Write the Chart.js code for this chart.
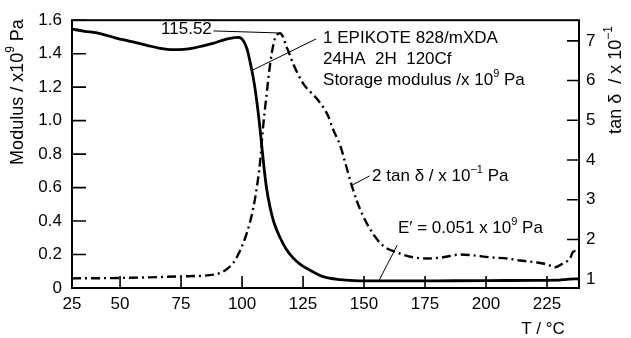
<!DOCTYPE html>
<html>
<head>
<meta charset="utf-8">
<script src="https://cdn.jsdelivr.net/npm/chart.js@4.4.1/dist/chart.umd.min.js"></script>
<style>
  html, body { margin: 0; padding: 0; background: #fff; }
</style>
</head>
<body>
<canvas id="dmaChart" width="631" height="338"></canvas>
<script>
// storage modulus E' (x10^9 Pa), left axis
const modulusTemp = [30.3, 35, 41.8, 48, 55.3, 61, 66.4, 71.7, 76, 79.9, 84, 88.1, 92, 95.1, 98.4,
  100.4, 102, 103.3, 104.9, 106, 107, 108, 109, 110, 111.5, 113.1, 115.6, 118, 120.9, 124, 127.9,
  133.2, 140.2, 148, 160, 180, 200, 220, 230, 233, 238.1];
const modulusValues = [1.547, 1.535, 1.52, 1.495, 1.47, 1.45, 1.432, 1.424, 1.426, 1.433, 1.447, 1.462, 1.48, 1.492, 1.497,
  1.48, 1.43, 1.35, 1.23, 1.12, 1.0, 0.86, 0.72, 0.60, 0.48, 0.39, 0.30, 0.235, 0.18, 0.14, 0.106,
  0.068, 0.05, 0.043, 0.042, 0.043, 0.044, 0.046, 0.047, 0.052, 0.055];

// 2 tan delta (x10^-1), right axis
const tanTemp = [30.3, 50, 75, 89, 93, 96.3, 99.2, 102, 104.5, 106.1, 107.4, 108.6, 109.8, 111.5, 113.1,
  114.3, 115.52, 116.8, 118, 118.9, 120.9, 125, 131.1, 135.2, 137.3, 140.2, 142.2, 145.1, 147.1, 149.6,
  153.7, 157.8, 163.5, 170.1, 175.8, 182.4, 189.3, 194.7, 201.6, 208.6, 213.9, 220.9, 225, 228.3,
  231.6, 234.4, 235.7, 238.1];
const tanValues = [1.02, 1.03, 1.07, 1.12, 1.22, 1.40, 1.72, 2.17, 2.76, 3.33, 3.95, 4.82, 5.51, 6.41, 6.98,
  7.15, 7.19, 7.10, 6.88, 6.75, 6.43, 5.93, 5.51, 5.12, 4.77, 4.37, 3.95, 3.33, 2.96, 2.59,
  2.14, 1.84, 1.67, 1.55, 1.52, 1.55, 1.62, 1.60, 1.55, 1.52, 1.47, 1.42, 1.37, 1.30,
  1.40, 1.52, 1.69, 1.72];

// tick labels
const tempTicks = [25, 50, 75, 100, 125, 150, 175, 200, 225];
const modulusTicks = [0, 0.2, 0.4, 0.6, 0.8, 1.0, 1.2, 1.4, 1.6];
const tanTicks = [1, 2, 3, 4, 5, 6, 7];

const peakLabel = '115.52';
const FONT = '"Liberation Sans", Arial, sans-serif';

function toPoints(xs, ys) {
  return xs.map((x, i) => ({ x: x, y: ys[i] }));
}

// text with superscripts: parts = [[text, isSup], ...]
function richWidth(ctx, parts, size) {
  let w = 0;
  parts.forEach(p => {
    ctx.font = (p[1] ? Math.round(size * 0.65) : size) + 'px ' + FONT;
    w += ctx.measureText(p[0]).width;
  });
  return w;
}
function drawRich(ctx, parts, x, y, size, align) {
  let cx = x;
  if (align === 'center') cx = x - richWidth(ctx, parts, size) / 2;
  if (align === 'right') cx = x - richWidth(ctx, parts, size);
  ctx.textBaseline = 'middle';
  ctx.textAlign = 'left';
  parts.forEach(p => {
    const s = p[1] ? Math.round(size * 0.65) : size;
    ctx.font = s + 'px ' + FONT;
    ctx.fillText(p[0], cx, p[1] ? y - size * 0.38 : y);
    cx += ctx.measureText(p[0]).width;
  });
}

const decorPlugin = {
  id: 'decor',
  afterDraw(chart) {
    const ctx = chart.ctx;
    const a = chart.chartArea;
    const sx = chart.scales.x, sy = chart.scales.y, sy2 = chart.scales.y2;
    ctx.save();
    ctx.strokeStyle = '#000';
    ctx.fillStyle = '#000';

    // frame
    ctx.lineWidth = 2;
    ctx.strokeRect(a.left, a.top, a.right - a.left, a.bottom - a.top);

    // inward ticks
    ctx.lineWidth = 1.6;
    ctx.beginPath();
    sx.ticks.forEach(t => {
      const px = sx.getPixelForValue(t.value);
      if (px - a.left < 3) return;
      ctx.moveTo(px, a.bottom); ctx.lineTo(px, a.bottom - 12);
    });
    sy.ticks.forEach(t => {
      const py = sy.getPixelForValue(t.value);
      ctx.moveTo(a.left, py); ctx.lineTo(a.left + 14, py);
    });
    sy2.ticks.forEach(t => {
      const py = sy2.getPixelForValue(t.value);
      ctx.moveTo(a.right, py); ctx.lineTo(a.right - 12, py);
    });
    ctx.stroke();

    // leader lines
    ctx.lineWidth = 1;
    ctx.beginPath();
    // 115.52 -> tan delta peak
    ctx.moveTo(sx.getPixelForValue(88.3), sy2.getPixelForValue(7.25));
    ctx.lineTo(sx.getPixelForValue(114.6), sy2.getPixelForValue(7.2));
    // storage modulus label -> E' curve
    ctx.moveTo(sx.getPixelForValue(104.1), sy.getPixelForValue(1.3));
    ctx.lineTo(sx.getPixelForValue(130.3), sy.getPixelForValue(1.488));
    // 2 tan delta label
    ctx.moveTo(sx.getPixelForValue(145.5), sy2.getPixelForValue(3.38));
    ctx.lineTo(sx.getPixelForValue(152.3), sy2.getPixelForValue(3.6));
    // E' = 0.051 label
    ctx.moveTo(sx.getPixelForValue(163.6), sy.getPixelForValue(0.256));
    ctx.lineTo(sx.getPixelForValue(156.0), sy.getPixelForValue(0.041));
    ctx.stroke();

    // annotations
    const fs = 17;
    drawRich(ctx, [[peakLabel, 0]], sx.getPixelForValue(87.6), sy2.getPixelForValue(7.29), fs, 'right');
    const bx = sx.getPixelForValue(133.2);
    drawRich(ctx, [['1 EPIKOTE 828/mXDA', 0]], bx, sy.getPixelForValue(1.494), fs, 'left');
    drawRich(ctx, [['24HA  2H  120Cf', 0]], bx, sy.getPixelForValue(1.364), fs, 'left');
    drawRich(ctx, [['Storage modulus /x 10', 0], ['9', 1], [' Pa', 0]], bx, sy.getPixelForValue(1.24), fs, 'left');
    drawRich(ctx, [['2 tan \u03b4 / x 10', 0], ['\u22121', 1], [' Pa', 0]],
      sx.getPixelForValue(153.3), sy2.getPixelForValue(3.58), fs, 'left');
    drawRich(ctx, [['E\u2032 = 0.051 x 10', 0], ['9', 1], [' Pa', 0]],
      sx.getPixelForValue(163.9), sy.getPixelForValue(0.354), fs, 'left');

    // axis titles
    ctx.save();
    ctx.translate(18, 92);
    ctx.rotate(-Math.PI / 2);
    drawRich(ctx, [['Modulus / x10', 0], ['9', 1], [' Pa', 0]], 0, 0, 18, 'center');
    ctx.restore();

    ctx.save();
    ctx.translate(616, 80);
    ctx.rotate(-Math.PI / 2);
    drawRich(ctx, [['tan \u03b4  / x 10', 0], ['\u22121', 1]], 0, 0, 18, 'center');
    ctx.restore();

    drawRich(ctx, [['T / \u00b0C', 0]], 543, 329, 17, 'center');
    ctx.restore();
  }
};

const tickFont = { family: FONT, size: 17 };

new Chart(document.getElementById('dmaChart').getContext('2d'), {
  type: 'line',
  data: {
    datasets: [{
      label: 'Storage modulus',
      data: toPoints(modulusTemp, modulusValues),
      yAxisID: 'y',
      borderColor: '#000',
      borderWidth: 2.8,
      pointRadius: 0,
      cubicInterpolationMode: 'monotone',
      fill: false
    }, {
      label: '2 tan delta',
      data: toPoints(tanTemp, tanValues),
      yAxisID: 'y2',
      borderColor: '#000',
      borderWidth: 2.4,
      borderDash: [9, 4, 2, 4],
      pointRadius: 0,
      cubicInterpolationMode: 'monotone',
      fill: false
    }]
  },
  options: {
    responsive: false,
    animation: false,
    devicePixelRatio: 1,
    layout: { padding: { top: 16, left: 0, right: 0, bottom: 0 } },
    plugins: {
      legend: { display: false },
      tooltip: { enabled: false }
    },
    scales: {
      x: {
        type: 'linear',
        min: 30.3,
        max: 238.1,
        afterFit: s => { s.height = 50; },
        afterBuildTicks: s => {
          s.ticks = tempTicks.map(v => ({ value: v === 25 ? 30.3 : v }));
        },
        grid: { display: false, drawTicks: false },
        border: { display: false },
        ticks: {
          color: '#000',
          font: tickFont,
          padding: 6,
          autoSkip: false,
          maxRotation: 0,
          callback: (v, i) => String(tempTicks[i])
        }
      },
      y: {
        type: 'linear',
        position: 'left',
        min: 0,
        max: 1.6,
        afterFit: s => { s.width = 72; },
        afterBuildTicks: s => { s.ticks = modulusTicks.map(v => ({ value: v })); },
        grid: { display: false, drawTicks: false },
        border: { display: false },
        ticks: {
          color: '#000',
          font: tickFont,
          padding: 10,
          callback: v => v === 0 ? '0' : v.toFixed(1)
        }
      },
      y2: {
        type: 'linear',
        position: 'right',
        min: 0.777,
        max: 7.52,
        afterFit: s => { s.width = 52; },
        afterBuildTicks: s => { s.ticks = tanTicks.map(v => ({ value: v })); },
        grid: { display: false, drawTicks: false },
        border: { display: false },
        ticks: {
          color: '#000',
          font: tickFont,
          padding: 7,
          callback: v => String(v)
        }
      }
    }
  },
  plugins: [decorPlugin]
});
</script>
</body>
</html>
